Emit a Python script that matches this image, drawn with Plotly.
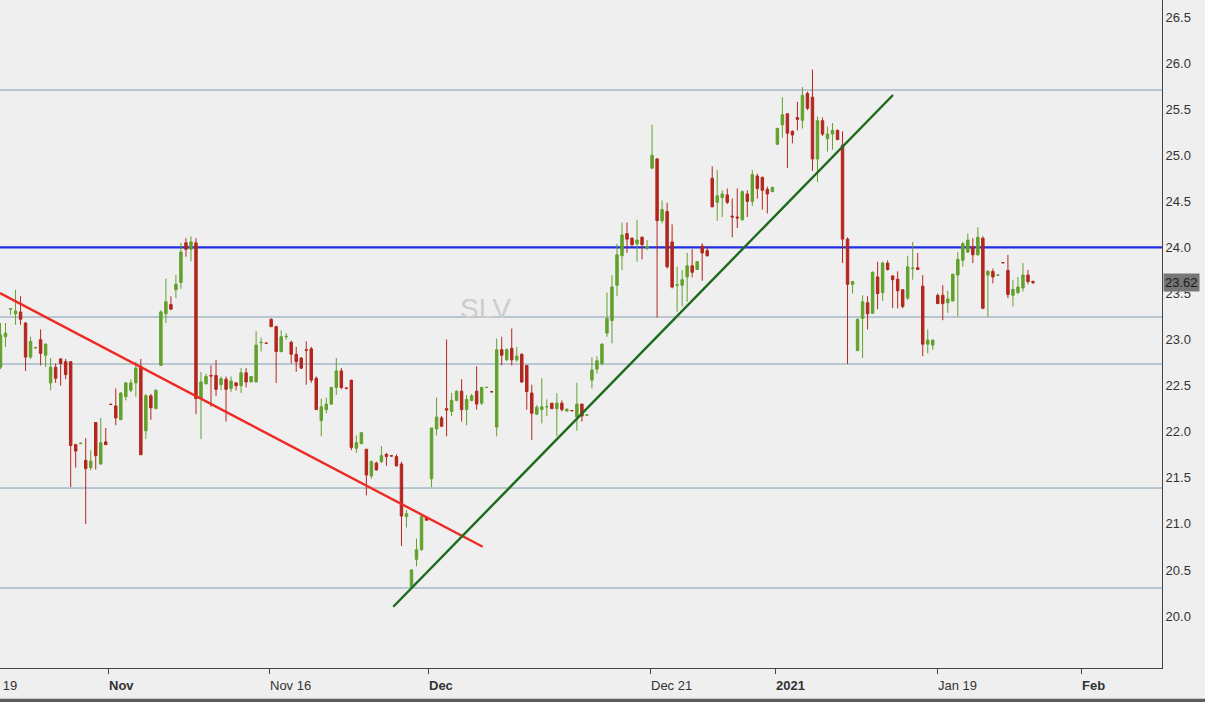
import plotly.graph_objects as go

# ---- data ----
opens = [22.70,23.03,23.33,23.28,23.30,23.18,22.81,22.91,23.00,22.83,22.53,22.70,22.79,22.76,22.76,21.86,21.87,21.69,21.61,22.10,
         21.65,21.89,22.30,22.28,22.13,22.38,22.45,22.53,22.71,22.01,22.39,22.25,22.72,23.28,23.38,23.54,23.62,24.05,23.98,24.05,
         22.36,22.52,22.61,22.61,22.51,22.57,22.47,22.53,22.50,22.64,22.54,22.54,22.965,22.96,23.22,23.14,22.87,23.03,22.97,22.84,
         22.80,22.89,22.90,22.58,22.12,22.24,22.30,22.48,22.66,22.475,22.56,21.82,21.87,21.81,21.52,21.66,21.675,21.755,21.74,21.73,
         21.65,21.08,20.32,20.615,20.72,21.07,21.49,22.03,22.15,22.25,22.22,22.34,22.44,22.24,22.34,22.44,22.31,22.48,22.435,22.05,
         22.89,22.78,22.905,22.78,22.84,22.72,22.42,22.19,22.24,22.27,22.31,22.25,22.31,22.225,22.23,22.16,22.30,22.18,22.56,22.68,
         22.74,23.07,23.205,23.59,23.91,24.15,24.10,24.04,24.11,23.99,24.86,24.96,24.29,24.39,24.06,23.59,23.59,23.68,23.80,23.76,
         24.015,23.965,24.75,24.49,24.54,24.57,24.34,24.33,24.30,24.58,24.50,24.775,24.76,24.63,24.605,25.12,25.33,25.45,25.26,25.41,
         25.38,25.67,25.63,24.96,25.375,25.18,25.23,25.27,25.11,24.09,23.60,22.88,23.23,23.40,23.285,23.68,23.51,23.83,23.69,23.655,
         23.54,23.45,23.77,23.78,23.58,22.95,22.94,23.48,23.48,23.40,23.42,23.70,23.86,23.95,24.01,23.92,24.10,23.70,23.74,23.70,
         23.835,23.75,23.48,23.51,23.56,23.70,23.63]
highs = [23.18,23.18,23.34,23.54,23.47,23.19,23.03,22.92,23.11,22.96,22.80,22.74,22.80,22.79,22.76,21.87,21.88,21.93,21.80,22.10,
         22.15,22.04,22.30,22.47,22.43,22.54,22.57,22.76,22.79,22.41,22.41,22.46,23.32,23.66,23.47,23.70,24.05,24.10,24.12,24.10,
         22.65,22.63,22.72,22.78,22.60,22.60,22.60,22.54,22.69,22.69,22.60,23.09,23.02,22.965,23.23,23.15,23.10,23.07,22.99,22.92,
         22.81,22.98,22.92,22.60,22.36,22.37,22.49,22.80,22.69,22.48,22.56,21.96,21.99,21.81,21.69,21.675,21.845,21.77,21.745,21.755,
         21.675,21.15,20.51,20.84,21.10,21.08,22.04,22.37,22.17,23.00,22.42,22.45,22.57,22.40,22.41,22.71,22.49,22.485,22.44,23.01,
         23.03,22.905,23.12,22.92,22.85,22.72,22.51,22.29,22.58,22.35,22.31,22.42,22.34,22.25,22.235,22.53,22.30,22.185,22.81,22.82,
         22.96,23.51,23.70,24.04,24.27,24.27,24.11,24.30,24.12,24.08,25.33,24.97,24.51,24.485,24.25,23.79,23.755,23.94,23.98,23.85,
         24.045,24.015,24.88,24.84,24.62,24.64,24.53,24.64,24.62,24.62,24.84,24.80,24.77,24.66,24.66,25.30,25.63,25.455,25.27,25.58,
         25.74,25.69,25.93,25.42,25.41,25.31,25.35,25.28,25.26,24.11,23.63,23.23,23.48,23.47,23.74,23.845,23.845,23.86,23.70,23.74,
         23.545,23.91,24.06,23.94,23.70,23.11,23.00,23.50,23.59,23.53,23.71,23.95,24.06,24.15,24.10,24.22,24.12,23.755,23.77,23.705,
         23.84,23.92,23.65,23.68,23.83,23.755,23.64]
lows = [22.68,22.92,23.27,23.16,23.16,22.66,22.79,22.90,22.72,22.70,22.45,22.53,22.50,22.57,21.40,21.61,21.87,21.00,21.58,21.59,
        21.64,21.86,22.29,22.07,22.13,22.34,22.43,22.38,21.75,21.92,22.13,22.25,22.72,23.18,23.32,23.45,23.55,23.90,23.85,22.19,
        21.92,22.515,22.27,22.39,22.45,22.11,22.43,22.45,22.42,22.48,22.54,22.54,22.87,22.955,23.14,22.53,22.86,23.00,22.74,22.65,
        22.68,22.51,22.53,22.24,21.95,22.20,22.29,22.40,22.46,22.46,21.80,21.77,21.87,21.31,21.49,21.58,21.66,21.63,21.73,21.62,
        20.76,20.96,20.30,20.54,20.71,21.04,21.40,21.96,22.05,21.95,22.17,22.33,22.11,22.07,22.33,22.24,22.29,22.475,22.43,21.95,
        22.72,22.77,22.72,22.76,22.53,22.24,21.91,22.18,22.09,22.17,22.25,21.95,22.22,22.22,22.225,22.01,22.11,22.175,22.47,22.63,
        22.72,23.03,22.96,23.47,23.755,23.94,24.01,23.845,23.87,23.97,24.85,23.24,24.26,23.77,23.555,23.30,23.36,23.41,23.675,23.755,
        23.64,23.90,24.44,24.29,24.33,24.47,24.11,24.21,24.29,24.33,24.45,24.53,24.41,24.37,24.60,25.11,25.19,24.86,25.13,25.27,
        25.29,25.49,24.83,24.71,25.21,25.04,25.06,25.165,23.83,22.735,23.50,22.88,22.80,23.11,23.28,23.33,23.42,23.75,23.34,23.34,
        23.34,23.43,23.65,23.755,22.82,22.85,22.89,23.39,23.21,23.29,23.41,23.25,23.79,23.94,23.83,23.91,23.33,23.25,23.61,23.695,
        23.83,23.45,23.36,23.49,23.52,23.60,23.60]
closes = [23.05,23.07,23.335,23.31,23.22,22.81,22.98,22.915,22.85,22.95,22.70,22.58,22.74,22.62,21.85,21.79,21.875,21.60,21.68,21.74,
          21.88,21.86,22.295,22.15,22.42,22.53,22.53,22.69,21.75,22.39,22.26,22.45,23.30,23.41,23.33,23.60,23.95,23.98,24.06,22.36,
          22.54,22.60,22.605,22.46,22.575,22.46,22.55,22.50,22.64,22.54,22.60,22.94,22.97,22.96,23.14,22.87,23.03,23.035,22.84,22.76,
          22.69,22.885,22.56,22.24,22.27,22.30,22.48,22.66,22.48,22.47,21.83,21.88,21.99,21.53,21.675,21.585,21.74,21.73,21.737,21.63,
          21.085,21.11,20.50,20.72,21.08,21.04,22.04,22.16,22.06,22.235,22.34,22.44,22.24,22.35,22.39,22.30,22.48,22.482,22.433,22.89,
          22.83,22.89,22.78,22.82,22.54,22.435,22.20,22.265,22.27,22.272,22.25,22.31,22.24,22.245,22.228,22.30,22.17,22.182,22.67,22.77,
          22.95,23.23,23.57,23.92,24.135,24.09,24.03,24.08,24.03,24.01,25.00,24.29,24.41,23.79,23.57,23.595,23.65,23.80,23.73,23.845,
          23.94,23.91,24.44,24.56,24.58,24.49,24.33,24.32,24.605,24.50,24.79,24.64,24.62,24.58,24.65,25.29,25.44,25.24,25.22,25.39,
          25.65,25.51,24.96,25.375,25.23,25.23,25.27,25.17,24.09,23.60,23.63,23.22,23.41,23.28,23.73,23.50,23.83,23.76,23.65,23.53,
          23.36,23.79,23.775,23.76,22.95,22.995,22.995,23.39,23.39,23.44,23.71,23.87,24.04,24.08,23.92,24.11,23.34,23.74,23.68,23.70,
          23.834,23.49,23.545,23.57,23.70,23.63,23.62]
bar_index = list(range(len(closes)))

# x-axis date labels (position in bar units)
date_labels = ["Nov", "Nov 16", "Dec", "Dec 21", "2021", "Jan 19", "Feb"]
date_pos = [21.45, 53.57, 85.3, 129.59, 154.53, 186.85, 215.58]
date_bold = [True, False, True, False, True, False, True]

y_ticks = [20.0, 20.5, 21.0, 21.5, 22.0, 22.5, 23.0, 23.5, 24.0, 24.5, 25.0, 25.5, 26.0, 26.5]

# support / resistance levels
levels = [25.708, 23.245, 22.735, 21.389, 20.304]
key_level = 24.0
last_price = 23.62

# trend lines (bar index, price)
down_x = [-0.1, 96.21]
down_y = [23.505, 20.752]
up_x = [78.37, 178.07]
up_y = [20.101, 25.654]

GREEN = "#62a12c"
RED = "#b3261e"
BG = "#efefef"

fig = go.Figure()

for lv in levels:
    fig.add_shape(type="line", xref="paper", x0=0, x1=1, yref="y", y0=lv, y1=lv,
                  line=dict(color="#819db1", width=1), layer="below")
fig.add_shape(type="line", xref="paper", x0=0, x1=1, yref="y", y0=key_level, y1=key_level,
              line=dict(color="#1f2ee6", width=2.2), layer="below")

# bottom scrollbar strip of the source application
fig.add_shape(type="rect", xref="paper", yref="paper", x0=-0.01, x1=1.05, y0=-0.0509, y1=-0.0462,
              line=dict(width=0), fillcolor="#5c5c5c")

fig.add_trace(go.Candlestick(
    x=bar_index, open=opens, high=highs, low=lows, close=closes,
    increasing=dict(line=dict(color=GREEN, width=1), fillcolor=GREEN),
    decreasing=dict(line=dict(color=RED, width=1), fillcolor=RED),
    whiskerwidth=0, showlegend=False, hoverinfo="skip"))

fig.add_trace(go.Scatter(x=down_x, y=down_y, mode="lines",
                         line=dict(color="#ee2a24", width=2.4), showlegend=False, hoverinfo="skip"))
fig.add_trace(go.Scatter(x=up_x, y=up_y, mode="lines",
                         line=dict(color="#1b6b1b", width=2.4), showlegend=False, hoverinfo="skip"))

annotations = []
for lab, pos, b in zip(date_labels, date_pos, date_bold):
    annotations.append(dict(x=pos, xref="x", y=0, yref="paper", yanchor="middle", xanchor="left",
                            yshift=-17, xshift=-1, showarrow=False,
                            text=f"<b>{lab}</b>" if b else lab,
                            font=dict(family="Liberation Sans Narrow, Arial Narrow, sans-serif", size=13, color="#333")))
annotations.append(dict(x=19 / 1162, xref="paper", y=0, yref="paper", yanchor="middle", xanchor="right",
                        yshift=-17, showarrow=False, text="Oct 19",
                        font=dict(family="Liberation Sans Narrow, Arial Narrow, sans-serif", size=13, color="#333")))
annotations.append(dict(x=485 / 1162, xref="paper", y=1 - 308 / 668, yref="paper", showarrow=False,
                        text="SLV", font=dict(family="Liberation Sans, Arial, sans-serif", size=28, color="#cdcdcd")))
annotations.append(dict(x=1, xref="paper", xanchor="left", xshift=1, y=last_price, yref="y",
                        showarrow=False, text="23.62", bgcolor="#767676", borderpad=1,
                        font=dict(family="Liberation Sans, Arial, sans-serif", size=13, color="#1a1a1a")))

fig.update_layout(
    width=1205, height=702,
    margin=dict(l=0, r=43, t=0, b=34),
    paper_bgcolor=BG, plot_bgcolor=BG,
    showlegend=False,
    annotations=annotations,
    xaxis=dict(range=[-0.1, 231.74], rangeslider=dict(visible=False), showgrid=False, zeroline=False,
               tickvals=date_pos, ticks="outside", ticklen=5, tickcolor="#444", showticklabels=False,
               showline=True, linecolor="#444", linewidth=1),
    yaxis=dict(side="right", range=[19.436, 26.685], tickvals=y_ticks,
               ticktext=[f"{v:.1f}" for v in y_ticks], showgrid=False, zeroline=False,
               ticks="", showline=True, linecolor="#444", linewidth=1,
               tickfont=dict(family="Liberation Sans, Arial, sans-serif", size=13, color="#333")),
)

fig.write_html("out.html")
